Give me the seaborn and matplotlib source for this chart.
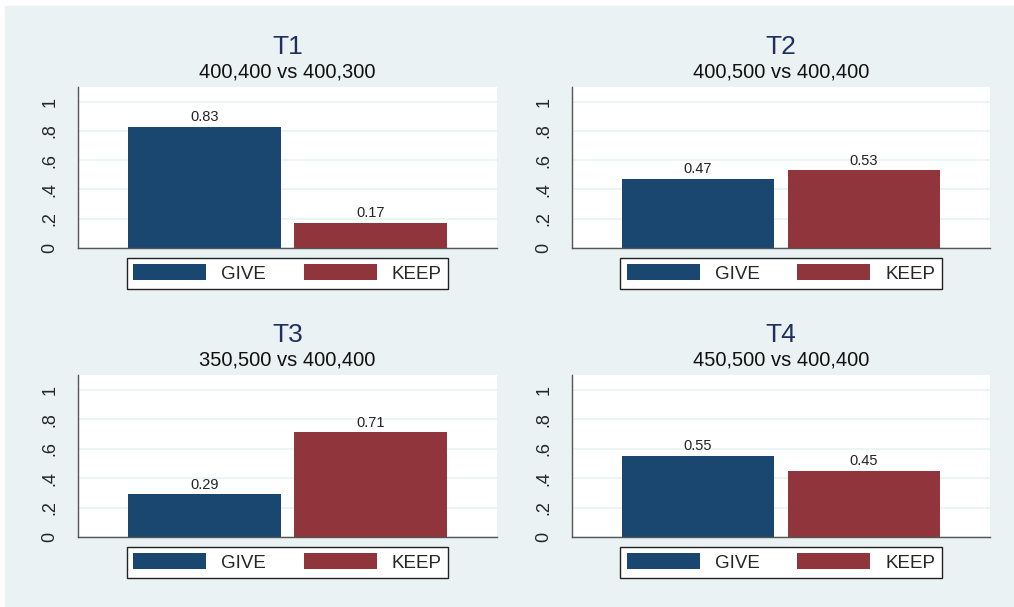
import pandas as pd
import seaborn as sns
import matplotlib.pyplot as plt
from matplotlib.patches import Rectangle

# data
treatments = ['T1', 'T2', 'T3', 'T4']
subtitles = ['400,400 vs 400,300', '400,500 vs 400,400',
             '350,500 vs 400,400', '450,500 vs 400,400']
choices = ['GIVE', 'KEEP']
give_share = [0.83, 0.47, 0.29, 0.55]
keep_share = [0.17, 0.53, 0.71, 0.45]
yticks = [0, 0.2, 0.4, 0.6, 0.8, 1.0]
ytick_labels = ['0', '.2', '.4', '.6', '.8', '1']

BG = '#eaf2f3'
NAVY = '#1a476f'
MAROON = '#90353b'
TITLE_COL = '#1f3060'

W, H = 1014, 607


def px_rect(left, top, right, bottom):
    """Convert pixel box to figure fraction [l, b, w, h]."""
    return [left / W, 1 - bottom / H, (right - left) / W, (bottom - top) / H]


def draw_panel(fig, box, title, subtitle, give, keep):
    ax = fig.add_axes(px_rect(*box))
    df = pd.DataFrame({'choice': choices, 'share': [give, keep]})
    sns.barplot(data=df, x='choice', y='share', hue='choice',
                palette=[NAVY, MAROON], saturation=1, width=0.916,
                linewidth=0, legend=True, ax=ax)
    for cont in ax.containers:
        ax.bar_label(cont, fmt='%.2f', padding=2, fontsize=10.5, color='#222222')

    ax.set_xlim(-0.76, 1.76)
    ax.set_ylim(0, 1.1)
    ax.set_yticks(yticks)
    ax.set_yticklabels(ytick_labels, rotation=90, va='center', fontsize=13)
    ax.set_xticks([])
    ax.set_xlabel('')
    ax.set_ylabel('')
    ax.set_facecolor('white')
    ax.grid(axis='y', color=BG, linewidth=1.2)
    ax.set_axisbelow(True)
    for side in ['top', 'right']:
        ax.spines[side].set_visible(False)
    for side in ['left', 'bottom']:
        ax.spines[side].set_color('#555555')
        ax.spines[side].set_linewidth(1.0)
    ax.tick_params(axis='y', length=6, color='#555555', pad=8)

    sns.move_legend(ax, 'upper center', bbox_to_anchor=(0.5, -0.06), ncol=2,
                    title=None, frameon=True, fancybox=False, fontsize=13.5,
                    framealpha=1, handlelength=3.9, handleheight=0.95,
                    handletextpad=0.8, columnspacing=2.0, borderpad=0.35,
                    borderaxespad=0)
    leg = ax.get_legend()
    leg.get_frame().set_edgecolor('#222222')
    leg.get_frame().set_linewidth(1.0)
    leg.get_frame().set_facecolor('white')

    cx = (box[0] + box[2]) / 2 / W
    fig.text(cx, 1 - (box[1] - 40) / H, title, ha='center', va='center',
             fontsize=19, color=TITLE_COL)
    fig.text(cx, 1 - (box[1] - 15) / H, subtitle, ha='center', va='center',
             fontsize=14.5, color='#111111')
    return ax


def main():
    sns.set_theme(style='white')
    plt.rcParams['font.family'] = ['Liberation Sans', 'DejaVu Sans']

    fig = plt.figure(figsize=(W / 100, H / 100), dpi=100)
    fig.patch.set_facecolor('white')
    fig.add_artist(Rectangle((5 / W, 1 / H), 1 - 5 / W, (H - 7) / H,
                             transform=fig.transFigure, color=BG, zorder=0))

    boxes = [(78, 87, 497, 248), (572, 87, 990, 248),
             (78, 375, 497, 537), (572, 375, 990, 537)]
    for i, box in enumerate(boxes):
        draw_panel(fig, box, treatments[i], subtitles[i],
                   give_share[i], keep_share[i])

    fig.savefig('out.png', dpi=100, facecolor=fig.get_facecolor())
    plt.close(fig)


if __name__ == "__main__":
    main()
